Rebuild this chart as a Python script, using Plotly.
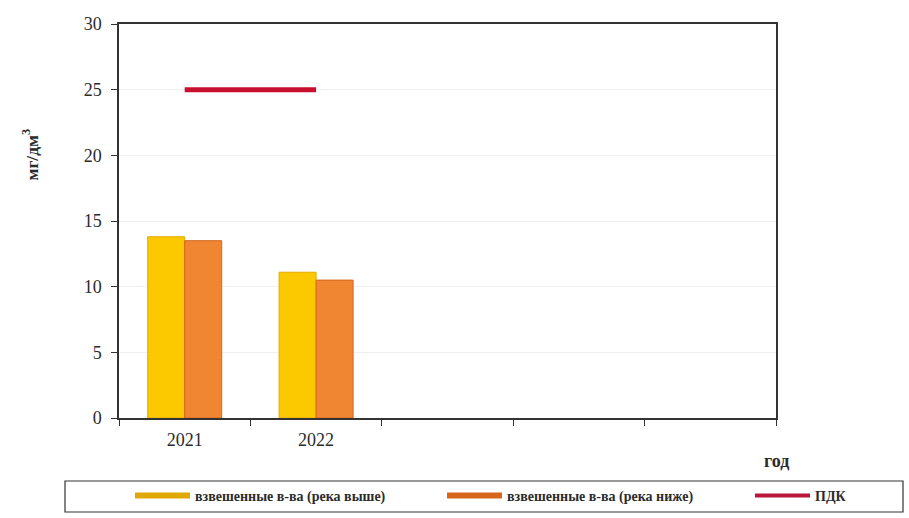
import plotly.graph_objects as go

# Data
years = ["2021", "2022"]
empty_slots = [" ", "  ", "   "]
upstream = [13.8, 11.1]
downstream = [13.5, 10.5]
pdk = [25, 25]

names = ["взвешенные в-ва (река выше)", "взвешенные в-ва (река ниже)", "ПДК"]
yellow, yellow_edge = "#FCC800", "#E3AA00"
orange, orange_edge = "#F08532", "#D4661C"
red = "#C8102E"

serif = "Liberation Serif"
ink = "#2b2b2b"

fig = go.Figure()

fig.add_trace(go.Bar(x=years, y=upstream, marker=dict(color=yellow, line=dict(color=yellow_edge, width=1)),
                     showlegend=False, name=names[0]))
fig.add_trace(go.Bar(x=years, y=downstream, marker=dict(color=orange, line=dict(color=orange_edge, width=1)),
                     showlegend=False, name=names[1]))
fig.add_trace(go.Scatter(x=years, y=pdk, mode="lines", line=dict(color=red, width=5),
                         showlegend=False, name=names[2]))

# Legend entries drawn as wide swatches, one legend per entry
fig.add_trace(go.Scatter(x=[None], y=[None], mode="lines", line=dict(color="#E0A800", width=6),
                         name="<b>" + names[0] + "</b>", legend="legend"))
fig.add_trace(go.Scatter(x=[None], y=[None], mode="lines", line=dict(color="#D8661A", width=6),
                         name="<b>" + names[1] + "</b>", legend="legend2"))
fig.add_trace(go.Scatter(x=[None], y=[None], mode="lines", line=dict(color="#B8163A", width=4),
                         name="<b>" + names[2] + "</b>", legend="legend3"))

W, H = 909, 518
L, R, T, B = 119, 776, 24, 418
pw, ph = R - L, B - T


def px(x):
    return (x - L) / pw


def py(y):
    return (B - y) / ph


def legend_at(x_pixel):
    return dict(orientation="h", x=px(x_pixel), xanchor="left", y=py(496), yanchor="middle",
                itemwidth=55, borderwidth=0, bgcolor="rgba(0,0,0,0)",
                font=dict(family=serif, size=14, color=ink))


fig.update_layout(
    width=W, height=H,
    margin=dict(l=L, r=W - R, t=T, b=H - B, autoexpand=False),
    paper_bgcolor="white", plot_bgcolor="white",
    barmode="group", bargap=0.437, bargroupgap=0,
    font=dict(family=serif, color=ink),
    legend=legend_at(130),
    legend2=legend_at(442),
    legend3=legend_at(750),
    shapes=[dict(type="rect", xref="paper", yref="paper", x0=px(65), x1=px(903), y0=py(512), y1=py(481),
                 line=dict(color="#333333", width=1.2), fillcolor="rgba(0,0,0,0)", layer="below")],
    annotations=[
        dict(text="<b>мг/дм<sup>3</sup></b>", xref="paper", yref="paper", x=px(30), y=py(154.5),
             xanchor="center", yanchor="middle", textangle=-90,
             showarrow=False, font=dict(family=serif, size=17.5, color=ink)),
        dict(text="<b>год</b>", xref="paper", yref="paper", x=px(776), y=py(461),
             xanchor="center", yanchor="middle", showarrow=False,
             font=dict(family=serif, size=18, color=ink)),
    ],
)

fig.update_xaxes(type="category", categoryorder="array", categoryarray=years + empty_slots,
                 range=[-0.5, 4.5], tickson="boundaries", ticks="outside", ticklen=6,
                 ticklabelstandoff=5,
                 tickcolor="#333333", showline=True, linecolor="#333333", linewidth=1.5, mirror=True,
                 showgrid=False, tickfont=dict(family=serif, size=18, color=ink))
fig.update_yaxes(range=[0, 30], dtick=5, ticks="outside", ticklen=6, tickcolor="#333333",
                 ticklabelstandoff=6,
                 showline=True, linecolor="#333333", linewidth=1.5, mirror=True,
                 showgrid=True, gridcolor="#f0f0f0", zeroline=False,
                 tickfont=dict(family=serif, size=18, color=ink))

fig.write_html("out.html")
